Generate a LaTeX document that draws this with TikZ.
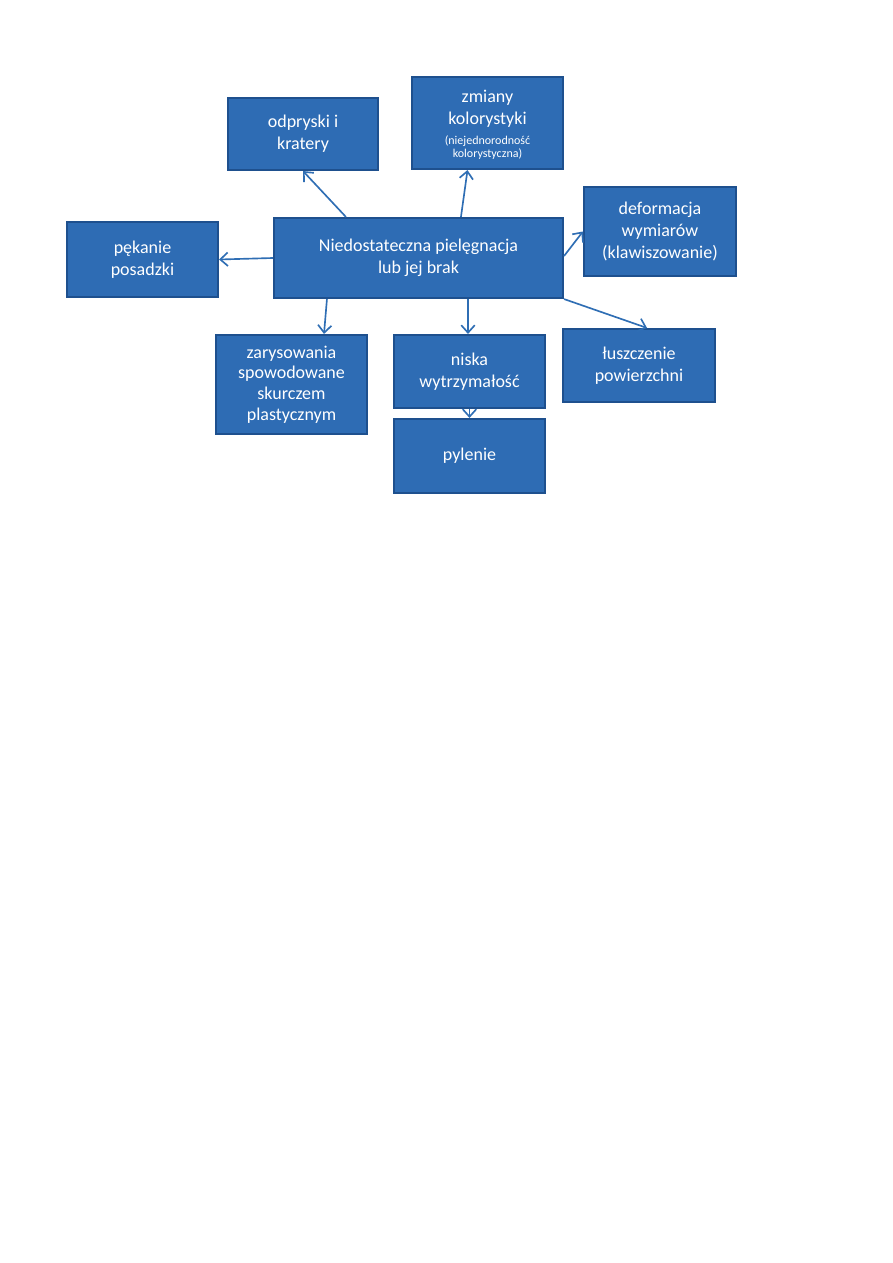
\documentclass[tikz,border=0pt]{standalone}
\usepackage{fontspec}
\setmainfont{Carlito}
\usetikzlibrary{arrows.meta,calc}
\definecolor{boxfill}{RGB}{46,108,180}
\definecolor{boxborder}{RGB}{30,80,142}
\definecolor{arrowcol}{RGB}{47,110,180}
\tikzset{
  box/.style={draw=boxborder, fill=boxfill, line width=1.4pt, text=white, align=center,
    font=\fontsize{12}{14.7}\selectfont, inner sep=0pt},
  conn/.style={draw=arrowcol, line width=1.1pt, -{Straight Barb[length=5pt,width=9pt,line width=1.1pt]}}
}
\begin{document}
\begin{tikzpicture}[x=0.66667pt,y=-0.66667pt]
\useasboundingbox (0,0) rectangle (893,1263);
\fill[white] (0,0) rectangle (893,1263);
\node[box, minimum width=150*0.66667pt, minimum height=72*0.66667pt] (odp) at (303,134) {odpryski i\\kratery};
\node[box, minimum width=151*0.66667pt, minimum height=92*0.66667pt] (zmi) at (487.5,123) {\\[-4pt]zmiany\\kolorystyki\\[-1pt]{\fontsize{8}{9}\selectfont (niejednorodność}\\[-6pt]{\fontsize{8}{9}\selectfont kolorystyczna)}};
\node[box, minimum width=151*0.66667pt, minimum height=75*0.66667pt] (pek) at (142.5,259.5) {pękanie\\posadzki};
\node[box, minimum width=289*0.66667pt, minimum height=80*0.66667pt] (cen) at (418.5,258) {Niedostateczna pielęgnacja\\lub jej brak};
\node[box, minimum width=152*0.66667pt, minimum height=89*0.66667pt] (def) at (660,231.5) {deformacja\\wymiarów\\(klawiszowanie)};
\node[box, minimum width=152*0.66667pt, minimum height=73*0.66667pt] (lus) at (639,365.5) {łuszczenie\\powierzchni};
\node[box, minimum width=151*0.66667pt, minimum height=73*0.66667pt] (nis) at (469.5,371.5) {niska\\wytrzymałość};
\node[box, minimum width=151*0.66667pt, minimum height=74*0.66667pt] (pyl) at (469.5,456) {pylenie};
\node[box, minimum width=151*0.66667pt, minimum height=99*0.66667pt] (zar) at (291.5,384.5) {zarysowania\\[-1pt]spowodowane\\[-1pt]skurczem\\[-1pt]plastycznym};
\draw[conn] ($(cen.north west)+(73,0)$) -- (odp.south);
\draw[conn] ($(cen.north west)+(188,0)$) -- ($(zmi.south)+(-20,0)$);
\draw[conn] (cen.west) -- (pek.east);
\draw[conn] ($(cen.east)+(0,-2)$) -- (def.west);
\draw[conn] (cen.south east) -- ($(lus.north)+(8,0)$);
\draw[conn] ($(cen.south -| nis.north)+(-1.5,0)$) -- ($(nis.north)+(-1.5,0)$);
\draw[conn] ($(cen.south west)+(54,0)$) -- ($(zar.north)+(32.5,0)$);
\draw[conn] (nis.south) -- (pyl.north);
\end{tikzpicture}
\end{document}
